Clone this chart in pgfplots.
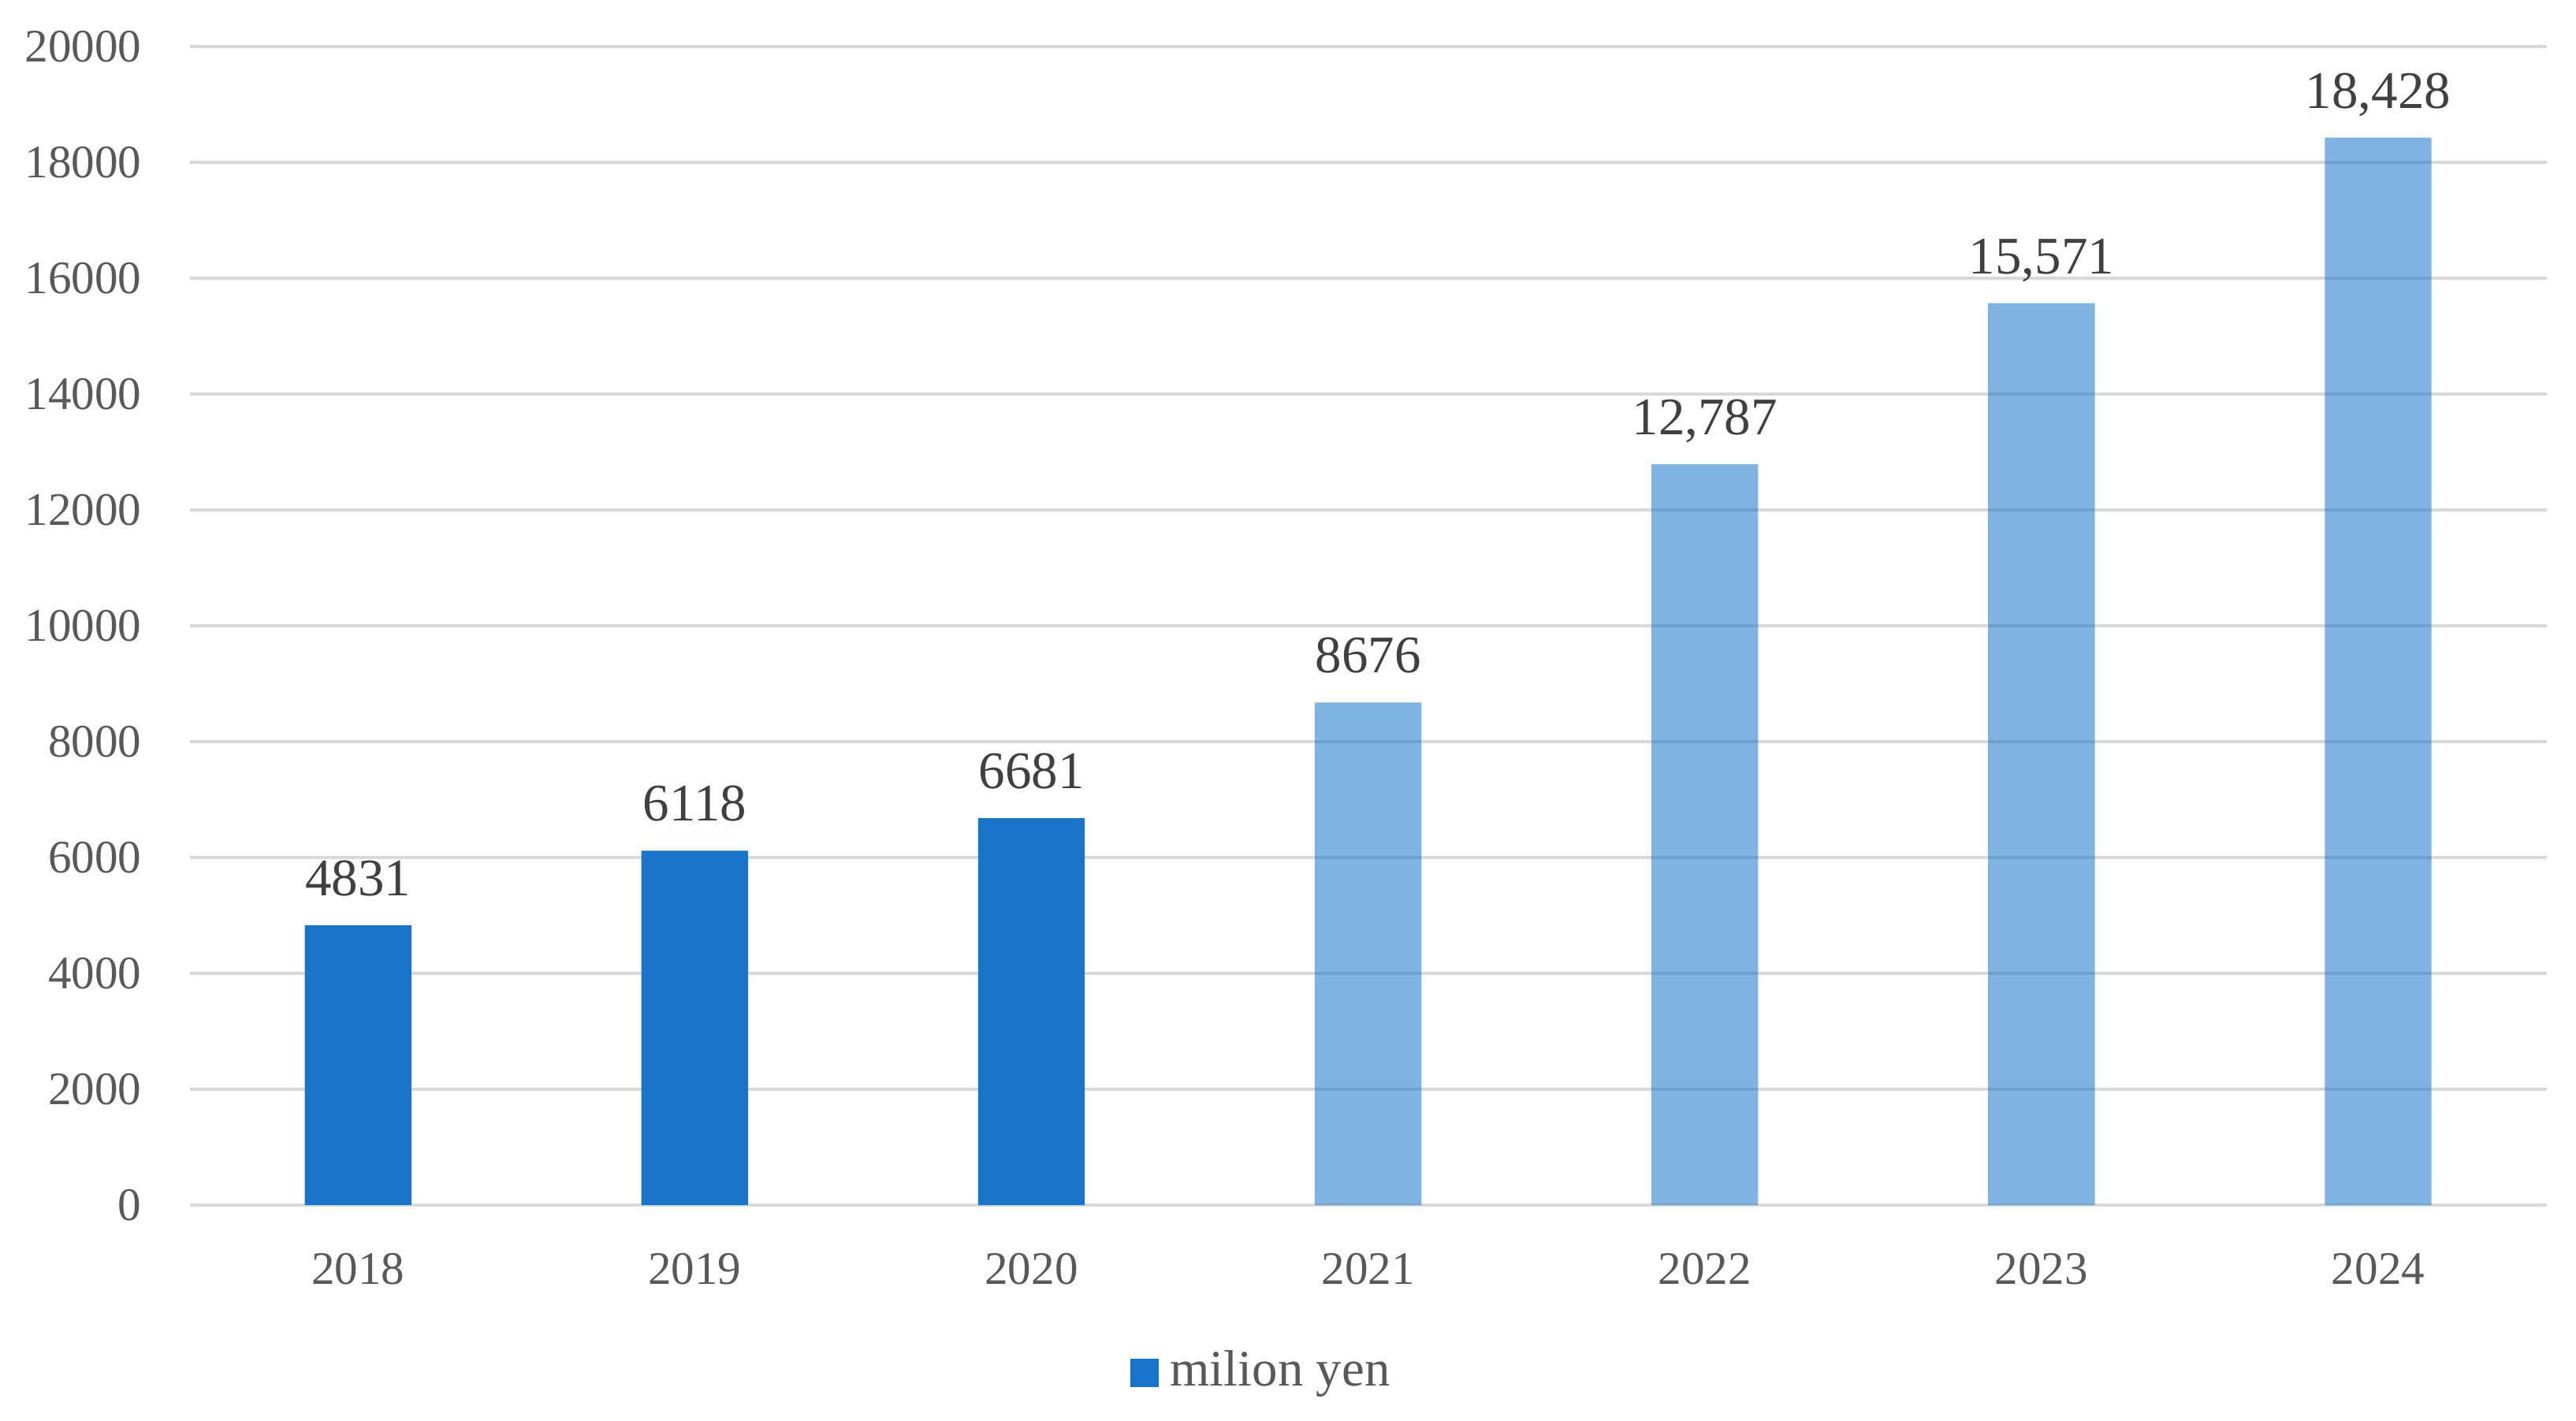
\documentclass[border=0pt]{standalone}
\usepackage{pgfplots}
\pgfplotsset{compat=1.18}
\usepackage{fontspec}
\setmainfont{Liberation Serif}
\definecolor{barblue}{HTML}{1874C8}
\definecolor{gridgray}{HTML}{D9D9D9}
\definecolor{ticktext}{HTML}{595959}
\definecolor{labeltext}{HTML}{404040}
\begin{document}
\begin{tikzpicture}
\begin{axis}[name=ax, scale only axis, width=414.9pt, height=204.0pt,
  xmin=-0.5, xmax=6.5, ymin=0, ymax=20000,
  xtick={0,1,2,3,4,5,6}, xticklabels={2018,2019,2020,2021,2022,2023,2024},
  ytick={0,2000,...,20000}, scaled ticks=false,
  ymajorgrids, grid style={gridgray, line width=0.6pt},
  axis line style={draw=none}, major tick length=0pt,
  tick label style={font=\fontsize{8.2}{10}\selectfont, text=ticktext},
  /pgf/number format/assume math mode=true,
  /pgf/number format/1000 sep={},
  yticklabel style={xshift=-5pt},
  xticklabel style={yshift=-5pt},
  legend style={at={(rel axis cs:0.4566,0)}, anchor=center, yshift=-29.5pt, draw=none,
    font=\fontsize{9}{10}\selectfont, text=ticktext, inner sep=0pt},
  legend image code/.code={\fill[barblue] (0pt,-2.5pt) rectangle (5pt,2.5pt);},
]
\addplot[ybar, bar width=0.317, bar shift=0pt, fill=barblue, draw=none,
  point meta=explicit symbolic, nodes near coords,
  nodes near coords style={anchor=base, yshift=5.2pt, font=\fontsize{9.3}{11}\selectfont, text=labeltext}]
  coordinates {(0,4831)[4831] (1,6118)[6118] (2,6681)[6681]};
\addlegendentry{milion yen}
\addplot[ybar, bar width=0.317, bar shift=0pt, fill=barblue, fill opacity=0.55, draw=none, forget plot,
  point meta=explicit symbolic, nodes near coords,
  nodes near coords style={anchor=base, yshift=5.2pt, font=\fontsize{9.3}{11}\selectfont, text=labeltext, text opacity=1}]
  coordinates {(3,8676)[8676] (4,12787)[{12,787}] (5,15571)[{15,571}] (6,18428)[{18,428}]};
\end{axis}
\pgfresetboundingbox
\path[use as bounding box] ([xshift=-33.4pt,yshift=-37.9pt]ax.south west) rectangle ([xshift=5.2pt,yshift=8.2pt]ax.north east);
\end{tikzpicture}
\end{document}
